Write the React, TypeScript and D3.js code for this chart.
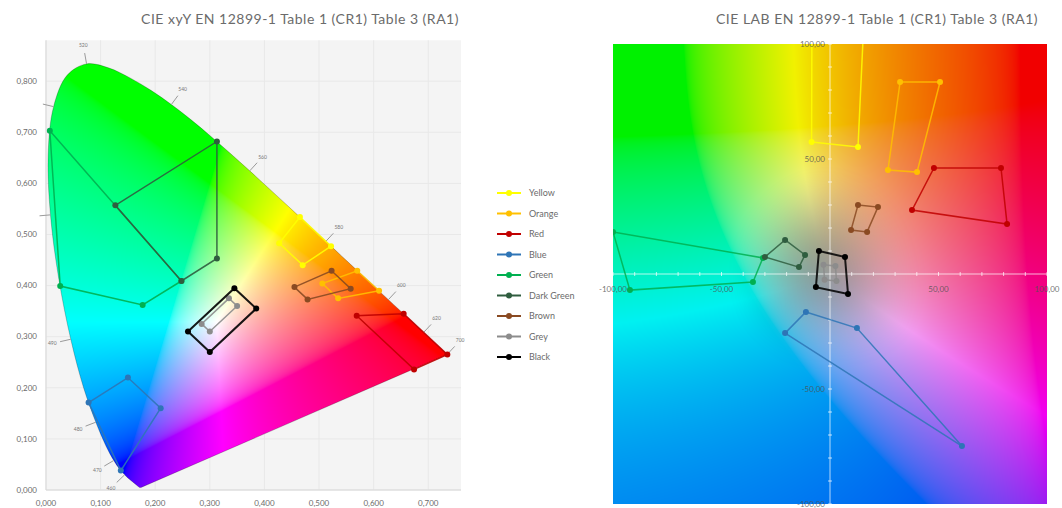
import React, { useMemo } from 'react';
import * as d3 from 'd3';

const W = 1062;
const H = 508;

// CIE 1931 spectral locus (nm, x, y)
const locusNm = [380, 400, 420, 430, 440, 445, 450, 455, 460, 465, 470, 475, 480, 485, 490, 495, 500, 505, 510, 515, 520, 525, 530, 535, 540, 545, 550, 555, 560, 565, 570, 575, 580, 585, 590, 595, 600, 610, 620, 630, 640, 650, 660, 680, 700];
const locusX = [0.1741, 0.1733, 0.1714, 0.1689, 0.1644, 0.1611, 0.1566, 0.1510, 0.1440, 0.1355, 0.1241, 0.1096, 0.0913, 0.0687, 0.0454, 0.0235, 0.0082, 0.0039, 0.0139, 0.0389, 0.0743, 0.1142, 0.1547, 0.1929, 0.2296, 0.2658, 0.3016, 0.3373, 0.3731, 0.4087, 0.4441, 0.4788, 0.5125, 0.5448, 0.5752, 0.6029, 0.6270, 0.6658, 0.6915, 0.7079, 0.7190, 0.7260, 0.7300, 0.7334, 0.7347];
const locusY = [0.0050, 0.0048, 0.0051, 0.0069, 0.0109, 0.0138, 0.0177, 0.0227, 0.0297, 0.0399, 0.0578, 0.0868, 0.1327, 0.2007, 0.2950, 0.4127, 0.5384, 0.6548, 0.7502, 0.8120, 0.8338, 0.8262, 0.8059, 0.7816, 0.7543, 0.7243, 0.6923, 0.6589, 0.6245, 0.5896, 0.5547, 0.5202, 0.4866, 0.4544, 0.4242, 0.3965, 0.3725, 0.3340, 0.3083, 0.2920, 0.2809, 0.2740, 0.2700, 0.2666, 0.2653];
const labelledNm = [460, 470, 480, 490, 520, 540, 560, 580, 600, 620, 700];
const tickOnlyNm = [500, 510];

// Axis ticks
const xyTicksX = [0, 0.1, 0.2, 0.3, 0.4, 0.5, 0.6, 0.7];
const xyTicksY = [0, 0.1, 0.2, 0.3, 0.4, 0.5, 0.6, 0.7, 0.8];
const labTicks = [-100, -50, 50, 100];

// Series
const seriesNames = ['Yellow', 'Orange', 'Red', 'Blue', 'Green', 'Dark Green', 'Brown', 'Grey', 'Black'];
const seriesColors = ['#ffff00', '#ffc000', '#c00000', '#2e75b6', '#00b050', '#2f5d3f', '#8a4a22', '#8c8c8c', '#000000'];

// CIE xy corner points
const xyYellow = [[0.522, 0.477], [0.470, 0.440], [0.427, 0.483], [0.465, 0.534]];
const xyOrange = [[0.610, 0.390], [0.535, 0.375], [0.506, 0.404], [0.570, 0.429]];
const xyRed = [[0.735, 0.265], [0.674, 0.236], [0.569, 0.341], [0.655, 0.345]];
const xyBlue = [[0.078, 0.171], [0.150, 0.220], [0.210, 0.160], [0.137, 0.038]];
const xyGreen = [[0.007, 0.703], [0.248, 0.409], [0.177, 0.362], [0.026, 0.399]];
const xyDarkGreen = [[0.313, 0.682], [0.313, 0.453], [0.248, 0.409], [0.127, 0.557]];
const xyBrown = [[0.455, 0.397], [0.523, 0.429], [0.558, 0.394], [0.479, 0.373]];
const xyGrey = [[0.350, 0.360], [0.300, 0.310], [0.285, 0.325], [0.335, 0.375]];
const xyBlack = [[0.385, 0.355], [0.300, 0.270], [0.260, 0.310], [0.345, 0.395]];

// CIE a*b* corner points
const labYellow = [[-8.5, 57.4], [12.9, 55.2], [16.1, 120], [-8.3, 120]];
const labOrange = [[26.7, 45.2], [32.3, 83.5], [50.7, 83.5], [40.1, 44.3]];
const labRed = [[47.9, 46.1], [78.8, 46.1], [81.6, 21.7], [37.8, 27.8]];
const labBlue = [[-11.1, -16.5], [12.4, -23.5], [60.8, -74.8], [-20.7, -25.7]];
const labGreen = [[-100, 18.3], [-30.9, 7.0], [-35.5, -3.5], [-92.2, -7.0]];
const labDarkGreen = [[-20.7, 14.8], [-11.5, 8.3], [-14.3, 3.0], [-30.0, 7.4]];
const labBrown = [[12.9, 30.0], [22.1, 29.1], [17.1, 18.3], [9.7, 19.1]];
const labGrey = [[-3.0, 4.0], [2.5, 3.5], [3.0, -3.0], [-2.5, -2.5]];
const labBlack = [[-5.1, 10.0], [6.9, 7.4], [8.3, -8.7], [-6.5, -5.7]];

const xySeries = [xyYellow, xyOrange, xyRed, xyBlue, xyGreen, xyDarkGreen, xyBrown, xyGrey, xyBlack];
const labSeries = [labYellow, labOrange, labRed, labBlue, labGreen, labDarkGreen, labBrown, labGrey, labBlack];

const FONT = 'Lato, "Open Sans", sans-serif';
const TXT = '#6b6b6b';

function gammaEnc(v: number) {
  const c = v <= 0.0031308 ? 12.92 * v : 1.055 * Math.pow(Math.max(0, v), 1 / 2.4) - 0.055;
  return Math.max(0, Math.min(255, Math.round(c * 255)));
}

function xyzToLinear(X: number, Y: number, Z: number) {
  const r = 3.2406 * X - 1.5372 * Y - 0.4986 * Z;
  const g = -0.9689 * X + 1.8758 * Y + 0.0415 * Z;
  const b = 0.0557 * X - 0.2040 * Y + 1.0570 * Z;
  return [Math.max(0, r), Math.max(0, g), Math.max(0, b)];
}

function normalized(lin: number[], peak: number) {
  const m = Math.max(lin[0], lin[1], lin[2], 1e-9);
  return lin.map(v => gammaEnc((v / m) * peak));
}

function clipped(lin: number[]) {
  return lin.map(v => gammaEnc(Math.min(1, v)));
}

function finv(t: number) {
  const d = 6 / 29;
  return t > d ? t * t * t : 3 * d * d * (t - 4 / 29);
}

function labLinear(L: number, a: number, b: number) {
  const fy = (L + 16) / 116;
  const X = 0.95047 * finv(fy + a / 500);
  const Y = finv(fy);
  const Z = 1.08883 * finv(fy - b / 200);
  return xyzToLinear(X, Y, Z);
}

function makeImage(w: number, h: number, fn: (px: number, py: number) => number[] | null) {
  if (typeof document === 'undefined') return '';
  const c = document.createElement('canvas');
  c.width = w; c.height = h;
  const ctx = c.getContext('2d');
  if (!ctx) return '';
  const img = ctx.createImageData(w, h);
  for (let py = 0; py < h; py++) {
    for (let px = 0; px < w; px++) {
      const col = fn(px + 0.5, py + 0.5);
      const i = (py * w + px) * 4;
      if (col) {
        img.data[i] = col[0]; img.data[i + 1] = col[1]; img.data[i + 2] = col[2]; img.data[i + 3] = 255;
      }
    }
  }
  ctx.putImageData(img, 0, 0);
  return c.toDataURL();
}

export default function App() {
  // Left (xy) scales
  const xS = d3.scaleLinear().domain([0, 0.76]).range([46, 461]);
  const yS = d3.scaleLinear().domain([0, 0.88]).range([490, 40.3]);
  // Right (a*b*) scales
  const aS = d3.scaleLinear().domain([-100, 100]).range([613, 1047]);
  const bS = d3.scaleLinear().domain([-100, 100]).range([504, 44]);

  const lx0 = xS(0), lx1 = xS(0.76), ly0 = yS(0.88), ly1 = yS(0);
  const rx0 = aS(-100), rx1 = aS(100), ry0 = bS(100), ry1 = bS(-100);

  const xyImg = useMemo(() => {
    const w = Math.round(lx1 - lx0), h = Math.round(ly1 - ly0);
    return makeImage(w, h, (px, py) => {
      const x = xS.invert(lx0 + px);
      const y = yS.invert(ly0 + py);
      const yy = Math.max(y, 0.002);
      const X = x / yy, Z = Math.max(0, (1 - x - yy) / yy);
      return normalized(xyzToLinear(X, 1, Z), 1);
    });
  }, []);

  const labImg = useMemo(() => {
    const w = Math.round(rx1 - rx0), h = Math.round(ry1 - ry0);
    return makeImage(w, h, (px, py) => {
      const a = aS.invert(rx0 + px);
      const b = bS.invert(ry0 + py);
      const c1 = clipped(labLinear(64, a, b));
      const c2 = normalized(labLinear(60, a, b), 0.88);
      const C = Math.hypot(a, b);
      let t = Math.min(1, Math.max(0, (C - 4) / 45));
      t = t * t * (3 - 2 * t);
      return [0, 1, 2].map(k => Math.round(c1[k] * (1 - t) + c2[k] * t));
    });
  }, []);

  const locusPts: [number, number][] = locusX.map((x, i) => [xS(x), yS(locusY[i])]);
  const locusPath = (d3.line().curve(d3.curveCatmullRom)(locusPts) || '') + 'Z';

  const wx = xS(0.3127), wy = yS(0.329);
  const wlMarks = [...labelledNm.map(n => ({ n, label: true })), ...tickOnlyNm.map(n => ({ n, label: false }))].map(({ n, label }) => {
    const i = locusNm.indexOf(n);
    const p = locusPts[i];
    const pa = locusPts[Math.max(0, i - 1)];
    const pb = locusPts[Math.min(locusPts.length - 1, i + 1)];
    const dx = pb[0] - pa[0], dy = pb[1] - pa[1];
    let nx = dy, ny = -dx;
    const len = Math.hypot(nx, ny) || 1;
    nx /= len; ny /= len;
    if ((p[0] - wx) * nx + (p[1] - wy) * ny < 0) { nx = -nx; ny = -ny; }
    return { n, label, p, nx, ny };
  });

  const fmt3 = (v: number) => v.toFixed(3).replace('.', ',');
  const fmt2 = (v: number) => v.toFixed(2).replace('.', ',');

  const lineXY = d3.line<number[]>().x(d => xS(d[0])).y(d => yS(d[1]));
  const lineLab = d3.line<number[]>().x(d => aS(d[0])).y(d => bS(d[1]));

  const legendY = d3.scaleLinear().domain([0, seriesNames.length - 1]).range([193, 357]);
  const labMinor = d3.range(-100, 101, 10).filter(v => v !== 0);

  return (
    <svg width={W} height={H} style={{ position: 'absolute', left: 0, top: 0, background: '#ffffff' }} fontFamily={FONT}>
      <defs>
        <clipPath id="locusClip"><path d={locusPath} /></clipPath>
        <clipPath id="labClip"><rect x={rx0} y={ry0} width={rx1 - rx0} height={ry1 - ry0} /></clipPath>
      </defs>

      {/* ---------- Left: CIE xy ---------- */}
      <text x={300} y={24} textAnchor="middle" fontSize={14} letterSpacing={0.5} fill={TXT}>CIE xyY EN 12899-1 Table 1 (CR1) Table 3 (RA1)</text>
      <rect x={lx0} y={ly0} width={lx1 - lx0} height={ly1 - ly0} fill="#f4f4f4" />
      {xyTicksX.map(t => (
        <line key={'gx' + t} x1={xS(t)} x2={xS(t)} y1={ly0} y2={ly1} stroke="#e8e8e8" strokeWidth={1} />
      ))}
      {xyTicksY.map(t => (
        <line key={'gy' + t} x1={lx0} x2={lx1} y1={yS(t)} y2={yS(t)} stroke="#e8e8e8" strokeWidth={1} />
      ))}
      <line x1={lx0} x2={lx0} y1={ly0} y2={ly1} stroke="#d9d9d9" />
      <line x1={lx0} x2={lx1} y1={ly1} y2={ly1} stroke="#d9d9d9" />
      {xyImg && (
        <image href={xyImg} x={lx0} y={ly0} width={Math.round(lx1 - lx0)} height={Math.round(ly1 - ly0)} clipPath="url(#locusClip)" preserveAspectRatio="none" />
      )}
      <path d={locusPath} fill="none" stroke="rgba(0,0,0,0.22)" strokeWidth={1} />
      {wlMarks.map(m => (
        <g key={'wl' + m.n}>
          <line x1={m.p[0]} y1={m.p[1]} x2={m.p[0] + m.nx * 11} y2={m.p[1] + m.ny * 11} stroke="#9a9a9a" strokeWidth={1} />
          {m.label && (
            <text x={m.p[0] + m.nx * 19} y={m.p[1] + m.ny * 19} dy="0.35em" textAnchor="middle" fontSize={5} fill="#777">{m.n}</text>
          )}
        </g>
      ))}
      {xyTicksY.map(t => (
        <text key={'ly' + t} x={37} y={yS(t)} dy="0.35em" textAnchor="end" fontSize={8} fill={TXT}>{fmt3(t)}</text>
      ))}
      {xyTicksX.map(t => (
        <text key={'lx' + t} x={xS(t)} y={506} textAnchor="middle" fontSize={8} fill={TXT}>{fmt3(t)}</text>
      ))}
      {xySeries.map((pts, i) => (
        <g key={'xs' + i}>
          <path d={(lineXY(pts) || '') + 'Z'} fill="none" stroke={seriesColors[i]} strokeWidth={i === 8 ? 2 : 1.5} strokeOpacity={0.9} />
          {pts.map((p, j) => (
            <circle key={j} cx={xS(p[0])} cy={yS(p[1])} r={3} fill={seriesColors[i]} />
          ))}
        </g>
      ))}

      {/* ---------- Legend ---------- */}
      {seriesNames.map((name, i) => (
        <g key={'lg' + i}>
          <line x1={497} x2={521} y1={legendY(i)} y2={legendY(i)} stroke={seriesColors[i]} strokeWidth={2} />
          <circle cx={509} cy={legendY(i)} r={3} fill={seriesColors[i]} />
          <text x={529} y={legendY(i)} dy="0.35em" fontSize={9} fill={TXT}>{name}</text>
        </g>
      ))}

      {/* ---------- Right: CIE a*b* ---------- */}
      <text x={877} y={24} textAnchor="middle" fontSize={14} letterSpacing={0.5} fill={TXT}>CIE LAB EN 12899-1 Table 1 (CR1) Table 3 (RA1)</text>
      {labImg && (
        <image href={labImg} x={rx0} y={ry0} width={Math.round(rx1 - rx0)} height={Math.round(ry1 - ry0)} preserveAspectRatio="none" />
      )}
      <line x1={rx0} x2={rx1} y1={bS(0)} y2={bS(0)} stroke="rgba(255,255,255,0.7)" strokeWidth={1} />
      <line x1={aS(0)} x2={aS(0)} y1={ry0} y2={ry1} stroke="rgba(255,255,255,0.7)" strokeWidth={1} />
      {labMinor.map(v => (
        <g key={'mt' + v}>
          <line x1={aS(v)} x2={aS(v)} y1={bS(0) - 2} y2={bS(0) + 2} stroke="rgba(255,255,255,0.7)" />
          <line x1={aS(0) - 2} x2={aS(0) + 2} y1={bS(v)} y2={bS(v)} stroke="rgba(255,255,255,0.7)" />
        </g>
      ))}
      <g clipPath="url(#labClip)">
        {labSeries.map((pts, i) => (
          <g key={'ls' + i}>
            <path d={(lineLab(pts) || '') + 'Z'} fill="none" stroke={seriesColors[i]} strokeWidth={i === 8 ? 2 : 1.5} strokeOpacity={0.85} />
            {pts.map((p, j) => (
              <circle key={j} cx={aS(p[0])} cy={bS(p[1])} r={3} fill={seriesColors[i]} />
            ))}
          </g>
        ))}
      </g>
      {labTicks.map(t => (
        <text key={'la' + t} x={aS(t)} y={bS(0) + 15} dy="0.35em" textAnchor="middle" fontSize={8} fill="rgba(80,80,80,0.8)">{fmt2(t)}</text>
      ))}
      {labTicks.map(t => (
        <text key={'lb' + t} x={aS(0) - 5} y={bS(t)} dy="0.35em" textAnchor="end" fontSize={8} fill="rgba(80,80,80,0.8)">{fmt2(t)}</text>
      ))}
    </svg>
  );
}
